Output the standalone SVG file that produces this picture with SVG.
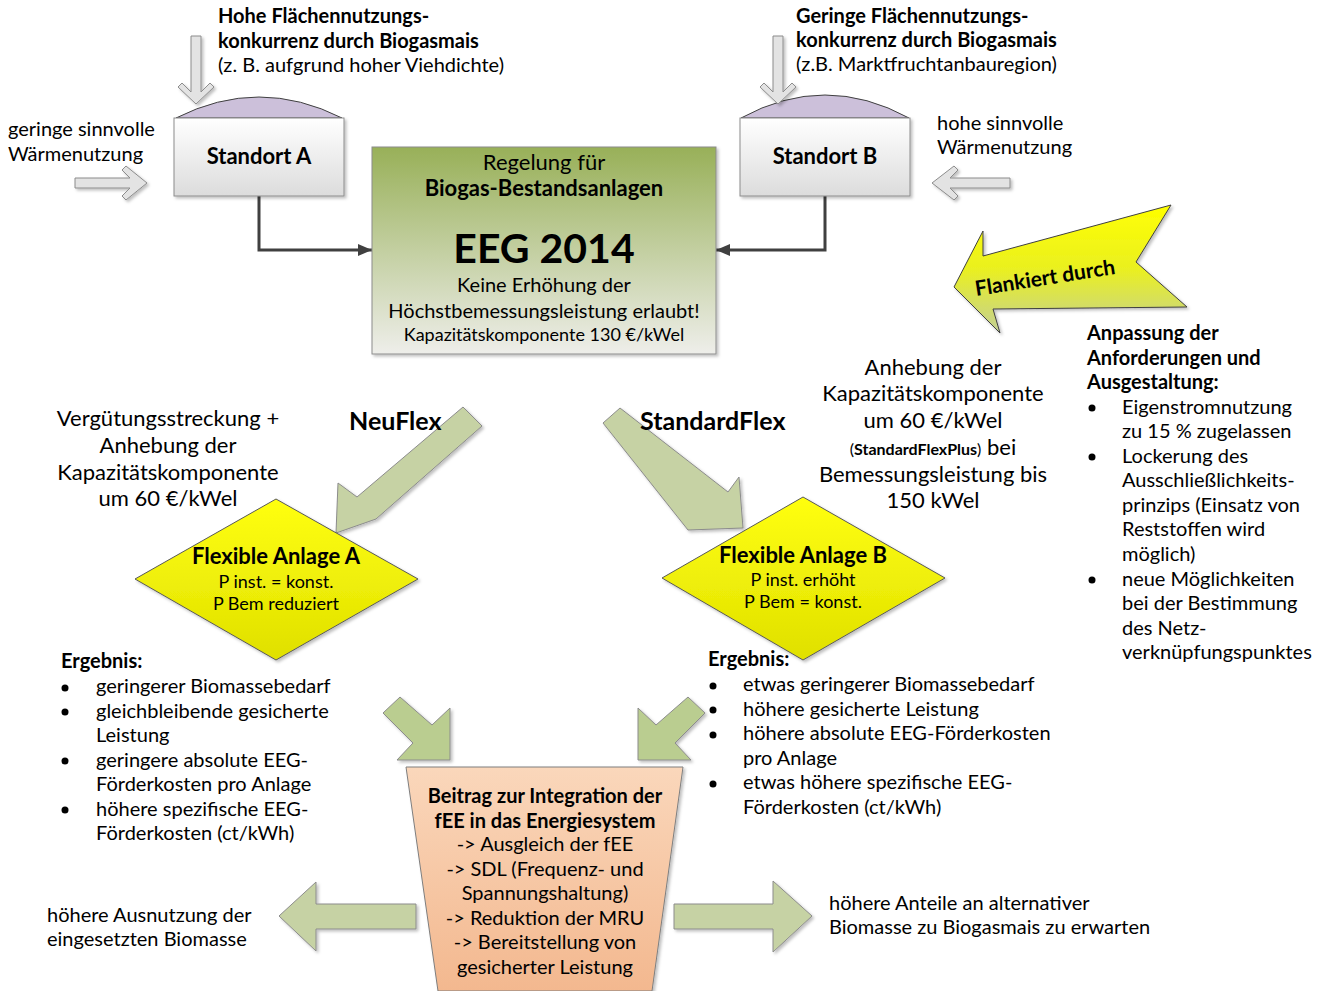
<svg xmlns="http://www.w3.org/2000/svg" width="1326" height="991" viewBox="0 0 1326 991">
<defs>
<style>
text{font-family:Lato,"Liberation Sans",sans-serif;fill:#000;}
.t18{font-size:20px;}
.t20{font-size:22px;}
.t16{font-size:18px;}
.b{font-weight:bold;}
.c{text-anchor:middle;}
.garrow{fill:#e3e3e3;stroke:#8c8c8c;stroke-width:1;}
.greenarrow{fill:#c6d2a4;stroke:#8c8c8c;stroke-width:1;}
.green2{fill:#bacd90;stroke:#8c8c8c;stroke-width:1;}
.conn{fill:none;stroke:#404040;stroke-width:3;}
</style>
<linearGradient id="gBox" x1="0" y1="0" x2="0" y2="1"><stop offset="0" stop-color="#ffffff"/><stop offset="1" stop-color="#dcdcdc"/></linearGradient>
<linearGradient id="gCenter" x1="0" y1="0" x2="0" y2="1"><stop offset="0" stop-color="#98b058"/><stop offset="1" stop-color="#eeeeea"/></linearGradient>
<linearGradient id="gYellow" x1="0" y1="0" x2="0" y2="1"><stop offset="0" stop-color="#ffff10"/><stop offset="1" stop-color="#e0e000"/></linearGradient>
<linearGradient id="gFlank" x1="0" y1="0" x2="0" y2="1"><stop offset="0" stop-color="#ffff00"/><stop offset="0.5" stop-color="#eaf020"/><stop offset="1" stop-color="#c3cf96"/></linearGradient>
<linearGradient id="gPeach" x1="0" y1="0" x2="0" y2="1"><stop offset="0" stop-color="#fad7bb"/><stop offset="1" stop-color="#f3b88f"/></linearGradient>
<filter id="sh" x="-10%" y="-10%" width="130%" height="130%"><feDropShadow dx="2" dy="2" stdDeviation="1.5" flood-color="#000" flood-opacity="0.25"/></filter>
<marker id="ah" markerWidth="14" markerHeight="12" refX="14" refY="6" orient="auto" markerUnits="userSpaceOnUse"><path d="M0,0 L14,6 L0,12 z" fill="#404040"/></marker>
</defs>

<g id="connectors">
<polyline class="conn" points="259,196 259,250 372,250" marker-end="url(#ah)"/>
<polyline class="conn" points="825,196 825,250 716,250" marker-end="url(#ah)"/>
</g>

<g id="standortA">
<path d="M176,118 Q259,76 342,118 Z" fill="#ccc0da" stroke="#404040" stroke-width="1"/>
<rect x="174" y="118" width="170" height="78" fill="url(#gBox)" stroke="#8c8c8c" filter="url(#sh)"/>
<text class="t20 b c" x="259" y="164">Standort A</text>
</g>

<g id="standortB">
<path d="M741,118 Q825,72 909,118 Z" fill="#ccc0da" stroke="#404040" stroke-width="1"/>
<rect x="740" y="118" width="170" height="78" fill="url(#gBox)" stroke="#8c8c8c" filter="url(#sh)"/>
<text class="t20 b c" x="825" y="164">Standort B</text>
</g>

<g id="arrowTopA"><polygon class="garrow" filter="url(#sh)" points="191,36 201,36 201,92 210,83 214,87 196,104 178,87 182,83 191,92"/></g>
<g id="arrowTopB"><polygon class="garrow" filter="url(#sh)" points="773,36 783,36 783,92 792,83 796,87 778,104 760,87 764,83 773,92"/></g>
<g id="arrowLeftA"><polygon class="garrow" filter="url(#sh)" points="75,178 130,178 122,170 126,166 147,183 126,200 122,196 130,188 75,188"/></g>
<g id="arrowRightB"><polygon class="garrow" filter="url(#sh)" points="1010,178 950,178 958,170 954,166 932,183 954,200 958,196 950,188 1010,188"/></g>

<g id="textTopA">
<text class="t18 b" x="218" y="23">Hohe Flächennutzungs-</text>
<text class="t18 b" x="218" y="48">konkurrenz durch Biogasmais</text>
<text class="t18" x="218" y="72">(z. B. aufgrund hoher Viehdichte)</text>
</g>
<g id="textTopB">
<text class="t18 b" x="796" y="23">Geringe Flächennutzungs-</text>
<text class="t18 b" x="796" y="47">konkurrenz durch Biogasmais</text>
<text class="t18" x="796" y="71">(z.B. Marktfruchtanbauregion)</text>
</g>
<g id="textWaermeA">
<text class="t18" x="8" y="136">geringe sinnvolle</text>
<text class="t18" x="8" y="161">Wärmenutzung</text>
</g>
<g id="textWaermeB">
<text class="t18" x="937" y="130">hohe sinnvolle</text>
<text class="t18" x="937" y="154">Wärmenutzung</text>
</g>

<g id="eeg">
<rect x="372" y="147" width="344" height="207" fill="url(#gCenter)" stroke="#8c8c8c" filter="url(#sh)"/>
<text class="t20 c" x="544" y="170">Regelung für</text>
<text class="t20 b c" x="544" y="196">Biogas-Bestandsanlagen</text>
<text class="b c" x="544" y="263" style="font-size:41px">EEG 2014</text>
<text class="t18 c" x="544" y="292">Keine Erhöhung der</text>
<text class="t18 c" x="544" y="318">Höchstbemessungsleistung erlaubt!</text>
<text class="t16 c" x="544" y="341">Kapazitätskomponente 130 €/kWel</text>
</g>

<g id="flankiert">
<polygon points="954,287 983,231 983,256 1171,205 1136,262 1187,307 993,309 1000,333" fill="url(#gFlank)" stroke="#404040" stroke-width="1" filter="url(#sh)"/>
<text class="b c" x="1045" y="285" style="font-size:21px" transform="rotate(-9 1045 278)">Flankiert durch</text>
</g>

<g id="anpassung">
<text class="t18 b" x="1087" y="340">Anpassung der</text>
<text class="t18 b" x="1087" y="365">Anforderungen und</text>
<text class="t18 b" x="1087" y="389">Ausgestaltung:</text>
<circle cx="1092" cy="408" r="3.5"/>
<text class="t18" x="1122" y="414">Eigenstromnutzung</text>
<text class="t18" x="1122" y="438">zu 15 % zugelassen</text>
<circle cx="1092" cy="457" r="3.5"/>
<text class="t18" x="1122" y="463">Lockerung des</text>
<text class="t18" x="1122" y="487">Ausschließlichkeits-</text>
<text class="t18" x="1122" y="512">prinzips (Einsatz von</text>
<text class="t18" x="1122" y="536">Reststoffen wird</text>
<text class="t18" x="1122" y="561">möglich)</text>
<circle cx="1092" cy="580" r="3.5"/>
<text class="t18" x="1122" y="586">neue Möglichkeiten</text>
<text class="t18" x="1122" y="610">bei der Bestimmung</text>
<text class="t18" x="1122" y="635">des Netz-</text>
<text class="t18" x="1122" y="659">verknüpfungspunktes</text>
</g>

<g id="textAnhebungB">
<text class="t20 c" x="933" y="375">Anhebung der</text>
<text class="t20 c" x="933" y="401">Kapazitätskomponente</text>
<text class="t20 c" x="933" y="428">um 60 €/kWel</text>
<text class="c" x="933" y="455"><tspan style="font-size:16px">(</tspan><tspan style="font-size:16px;font-weight:bold">StandardFlexPlus</tspan><tspan style="font-size:16px">)</tspan><tspan style="font-size:22px"> bei</tspan></text>
<text class="t20 c" x="933" y="482">Bemessungsleistung bis</text>
<text class="t20 c" x="933" y="508">150 kWel</text>
</g>

<g id="textAnhebungA">
<text class="t20 c" x="168" y="426">Vergütungsstreckung +</text>
<text class="t20 c" x="168" y="453">Anhebung der</text>
<text class="t20 c" x="168" y="480">Kapazitätskomponente</text>
<text class="t20 c" x="168" y="506">um 60 €/kWel</text>
</g>

<g id="arrowNeuFlex">
<polygon class="greenarrow" filter="url(#sh)" points="463,407 482,426 376,519 336,533 338,483 357,497"/>
<text class="b" x="349" y="430" style="font-size:25px">NeuFlex</text>
</g>
<g id="arrowStandardFlex">
<polygon class="greenarrow" filter="url(#sh)" points="603,423 620,408 728,492 739,477 743,528 688,530"/>
<text class="b" x="640" y="430" style="font-size:25px">StandardFlex</text>
</g>

<g id="anlageA">
<polygon points="276,499 418,579 276,660 135,579" fill="url(#gYellow)" stroke="#595959" stroke-width="1" filter="url(#sh)"/>
<text class="t20 b c" x="276" y="564">Flexible Anlage A</text>
<text class="t16 c" x="276" y="588">P inst. = konst.</text>
<text class="t16 c" x="276" y="610">P Bem reduziert</text>
</g>
<g id="anlageB">
<polygon points="803,497 945,578 803,660 662,578" fill="url(#gYellow)" stroke="#595959" stroke-width="1" filter="url(#sh)"/>
<text class="t20 b c" x="803" y="563">Flexible Anlage B</text>
<text class="t16 c" x="803" y="586">P inst. erhöht</text>
<text class="t16 c" x="803" y="608">P Bem = konst.</text>
</g>

<g id="ergebnisA">
<text class="t18 b" x="61" y="668">Ergebnis:</text>
<circle cx="65" cy="688" r="3.5"/>
<text class="t18" x="96" y="693">geringerer Biomassebedarf</text>
<circle cx="65" cy="712" r="3.5"/>
<text class="t18" x="96" y="718">gleichbleibende gesicherte</text>
<text class="t18" x="96" y="742">Leistung</text>
<circle cx="65" cy="761" r="3.5"/>
<text class="t18" x="96" y="767">geringere absolute EEG-</text>
<text class="t18" x="96" y="791">Förderkosten pro Anlage</text>
<circle cx="65" cy="810" r="3.5"/>
<text class="t18" x="96" y="816">höhere spezifische EEG-</text>
<text class="t18" x="96" y="840">Förderkosten (ct/kWh)</text>
</g>

<g id="ergebnisB">
<text class="t18 b" x="708" y="666">Ergebnis:</text>
<circle cx="713" cy="686" r="3.5"/>
<text class="t18" x="743" y="691">etwas geringerer Biomassebedarf</text>
<circle cx="713" cy="710" r="3.5"/>
<text class="t18" x="743" y="716">höhere gesicherte Leistung</text>
<circle cx="713" cy="735" r="3.5"/>
<text class="t18" x="743" y="740">höhere absolute EEG-Förderkosten</text>
<text class="t18" x="743" y="765">pro Anlage</text>
<circle cx="713" cy="784" r="3.5"/>
<text class="t18" x="743" y="789">etwas höhere spezifische EEG-</text>
<text class="t18" x="743" y="814">Förderkosten (ct/kWh)</text>
</g>

<g id="arrowsToBeitrag">
<polygon class="green2" filter="url(#sh)" points="383,713 400,697 432,725 450,708 450,760 397,760 413,743"/>
<polygon class="green2" filter="url(#sh)" points="705,713 688,697 656,725 638,708 638,760 691,760 675,743"/>
</g>

<g id="beitrag">
<polygon points="406,767 683,767 652,991 438,991" fill="url(#gPeach)" stroke="#7f7f7f" stroke-width="1" filter="url(#sh)"/>
<text class="t18 b c" x="545" y="803">Beitrag zur Integration der</text>
<text class="t18 b c" x="545" y="828">fEE in das Energiesystem</text>
<text class="t18 c" x="545" y="851">-&gt; Ausgleich der fEE</text>
<text class="t18 c" x="545" y="876">-&gt; SDL (Frequenz- und</text>
<text class="t18 c" x="545" y="900">Spannungshaltung)</text>
<text class="t18 c" x="545" y="925">-&gt; Reduktion der MRU</text>
<text class="t18 c" x="545" y="949">-&gt; Bereitstellung von</text>
<text class="t18 c" x="545" y="974">gesicherter Leistung</text>
</g>

<g id="arrowLeftBottom"><polygon class="greenarrow" filter="url(#sh)" points="416,904 316,904 316,882 279,916 316,951 316,929 416,929"/></g>
<g id="arrowRightBottom"><polygon class="greenarrow" filter="url(#sh)" points="674,904 773,904 773,881 812,916 773,952 773,929 674,929"/></g>

<g id="textBottomLeft">
<text class="t18" x="47" y="922">höhere Ausnutzung der</text>
<text class="t18" x="47" y="946">eingesetzten Biomasse</text>
</g>
<g id="textBottomRight">
<text class="t18" x="829" y="910">höhere Anteile an alternativer</text>
<text class="t18" x="829" y="934">Biomasse zu Biogasmais zu erwarten</text>
</g>
</svg>
